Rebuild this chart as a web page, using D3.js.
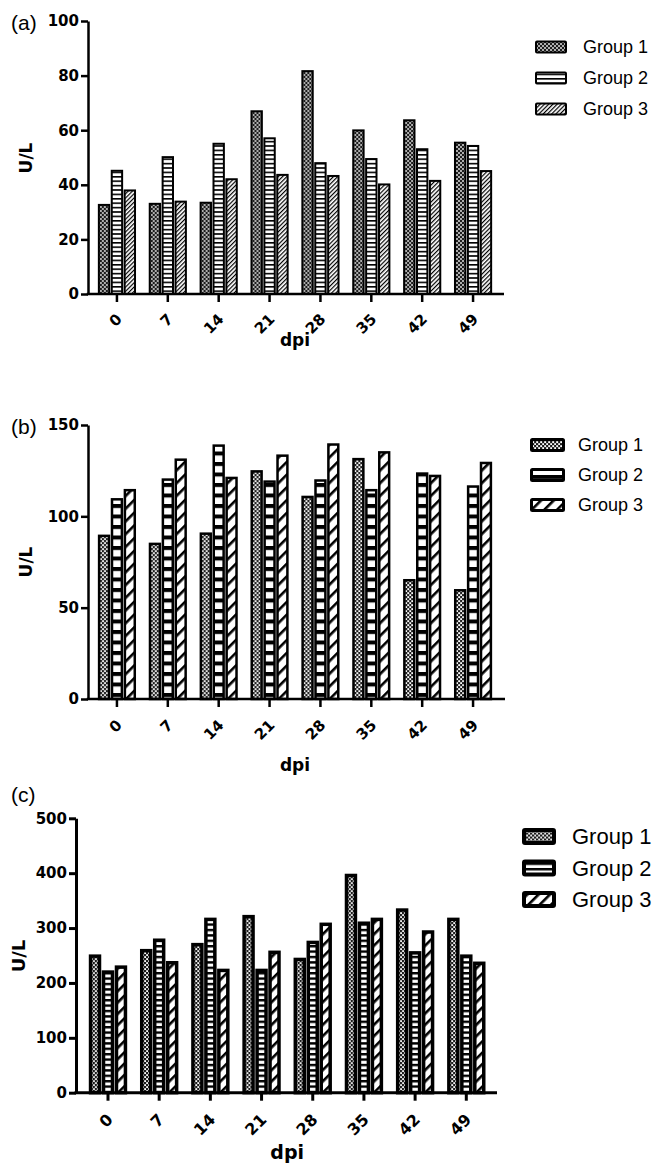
<!DOCTYPE html>
<html>
<head>
<meta charset="utf-8">
<script src="https://cdn.jsdelivr.net/npm/d3@7"></script>
<style>
    body { margin: 0; background: #fff; }
    svg { display: block; }
</style>
</head>
<body>
<script>
const dpi = ["0", "7", "14", "21", "28", "35", "42", "49"];
const groups = ["Group 1", "Group 2", "Group 3"];

const aGroup1 = [33, 33.4, 33.8, 67.3, 82, 60.3, 64, 55.8];
const aGroup2 = [45.5, 50.5, 55.4, 57.4, 48.3, 49.8, 53.4, 54.6];
const aGroup3 = [38.3, 34.2, 42.4, 44, 43.6, 40.5, 41.8, 45.4];

const bGroup1 = [90, 85.6, 91.2, 125.3, 111.3, 132, 65.7, 60.2];
const bGroup2 = [110, 120.8, 139.4, 119.7, 120.3, 115, 124.1, 117];
const bGroup3 = [115, 131.7, 121.7, 133.9, 140, 135.7, 122.8, 129.9];

const cGroup1 = [252, 262, 273, 324, 246, 399, 336, 319];
const cGroup2 = [223, 281, 319, 226, 277, 312, 258, 252];
const cGroup3 = [232, 240, 226, 259, 310, 319, 296, 239];

const aTicks = [0, 20, 40, 60, 80, 100];
const bTicks = [0, 50, 100, 150];
const cTicks = [0, 100, 200, 300, 400, 500];

const svg = d3.select("body").append("svg")
    .attr("width", 656)
    .attr("height", 1166);

const defs = svg.append("defs");

// fill patterns, one set per panel (the panels use different hatch sizes)
const makePatterns = (id, p) => {
    const dots = defs.append("pattern")
        .attr("id", `${id}-g1`)
        .attr("patternUnits", "userSpaceOnUse")
        .attr("width", 4).attr("height", 4);
    dots.append("rect").attr("width", 4).attr("height", 4).attr("fill", "#1c1c1c");
    dots.append("rect").attr("x", 0.2).attr("y", 0.2).attr("width", p.dot).attr("height", p.dot).attr("fill", "#fff");
    dots.append("rect").attr("x", 2.2).attr("y", 2.2).attr("width", p.dot).attr("height", p.dot).attr("fill", "#fff");

    const stripes = defs.append("pattern")
        .attr("id", `${id}-g2`)
        .attr("patternUnits", "userSpaceOnUse")
        .attr("width", 4).attr("height", p.hStep);
    stripes.append("rect").attr("width", 4).attr("height", p.hStep).attr("fill", "#fff");
    stripes.append("rect").attr("width", 4).attr("height", p.hLine).attr("fill", "#000");

    const hatch = defs.append("pattern")
        .attr("id", `${id}-g3`)
        .attr("patternUnits", "userSpaceOnUse")
        .attr("width", p.dStep).attr("height", p.dStep)
        .attr("patternTransform", "rotate(45)");
    hatch.append("rect").attr("width", p.dStep).attr("height", p.dStep).attr("fill", "#fff");
    hatch.append("rect").attr("width", p.dLine).attr("height", p.dStep).attr("fill", "#000");
};

const drawPanel = (cfg) => {
    const g = svg.append("g");
    makePatterns(cfg.id, cfg.pat);

    const data = dpi.map((d, i) => ({
        dpi: d,
        values: cfg.series.map((s, k) => ({ key: groups[k], k, v: s[i] }))
    }));

    const scaleX = d3.scaleBand()
        .domain(dpi)
        .range(cfg.bandRange)
        .paddingInner(0.25)
        .paddingOuter(0.125);

    const scaleG = d3.scaleBand()
        .domain(d3.range(groups.length))
        .range([0, scaleX.bandwidth()])
        .paddingInner(0.04);

    const scaleY = d3.scaleLinear()
        .domain([0, cfg.max])
        .range([cfg.yBottom, cfg.yTop]);

    // bars
    const sw = cfg.barStroke;
    g.append("g")
        .selectAll("g")
        .data(data)
        .join("g")
        .attr("transform", d => `translate(${scaleX(d.dpi)},0)`)
        .selectAll("rect")
        .data(d => d.values)
        .join("rect")
        .attr("x", d => scaleG(d.k) + sw / 2)
        .attr("y", d => scaleY(d.v) + sw / 2)
        .attr("width", scaleG.bandwidth() - sw)
        .attr("height", d => cfg.yBottom - scaleY(d.v) - sw / 2)
        .attr("fill", d => `url(#${cfg.id}-g${d.k + 1})`)
        .attr("stroke", "#000")
        .attr("stroke-width", sw);

    // y axis
    const axisY = g.append("g")
        .attr("transform", `translate(${cfg.axisX},0)`)
        .call(d3.axisLeft(scaleY).tickValues(cfg.ticks).tickSize(7).tickSizeOuter(0).tickPadding(2));
    axisY.select(".domain").attr("stroke-width", cfg.axisStroke);
    axisY.selectAll(".tick line").attr("stroke-width", cfg.axisStroke);
    axisY.selectAll("text")
        .attr("font-family", "DejaVu Sans")
        .attr("font-weight", "bold")
        .attr("font-size", 15)
        .attr("fill", "#000");

    // x axis
    const axisX = g.append("g")
        .attr("transform", `translate(0,${cfg.yBottom})`)
        .call(d3.axisBottom(scaleX).tickSize(8).tickSizeOuter(0));
    axisX.select(".domain").remove();
    axisX.selectAll(".tick line").attr("stroke-width", cfg.axisStroke);
    axisX.append("line")
        .attr("x1", cfg.axisX - cfg.axisStroke / 2)
        .attr("x2", cfg.xEnd)
        .attr("stroke", "#000")
        .attr("stroke-width", cfg.axisStroke);
    axisX.selectAll("text")
        .attr("x", 0).attr("y", 0).attr("dy", 0)
        .attr("transform", `translate(6,${cfg.xLabelDy}) rotate(-45)`)
        .style("text-anchor", "end")
        .attr("font-family", "DejaVu Sans")
        .attr("font-weight", "bold")
        .attr("font-size", cfg.xFont)
        .attr("fill", "#000");

    // axis titles
    const mid = (scaleX(dpi[0]) + scaleX(dpi[dpi.length - 1]) + scaleX.bandwidth()) / 2;
    g.append("text")
        .attr("x", mid)
        .attr("y", cfg.dpiY)
        .attr("text-anchor", "middle")
        .attr("font-family", "DejaVu Sans")
        .attr("font-weight", "bold")
        .attr("font-size", cfg.titleFont)
        .text("dpi");

    g.append("text")
        .attr("transform", `translate(${cfg.ulX},${cfg.ulY}) rotate(-90)`)
        .attr("text-anchor", "middle")
        .attr("dy", "0.36em")
        .attr("font-family", "DejaVu Sans")
        .attr("font-weight", "bold")
        .attr("font-size", cfg.ulFont)
        .text("U/L");

    g.append("text")
        .attr("x", 11)
        .attr("y", cfg.labelY)
        .attr("font-family", "Liberation Sans")
        .attr("font-size", 21)
        .text(cfg.label);

    // legend
    const legend = g.append("g")
        .selectAll("g")
        .data(groups)
        .join("g")
        .attr("transform", (d, i) => `translate(0,${cfg.legY + i * cfg.legStep})`);

    legend.append("rect")
        .attr("x", cfg.legX + cfg.legStroke / 2)
        .attr("y", -cfg.legH / 2 + cfg.legStroke / 2)
        .attr("width", cfg.legW - cfg.legStroke)
        .attr("height", cfg.legH - cfg.legStroke)
        .attr("rx", 1)
        .attr("fill", (d, i) => `url(#${cfg.id}-g${i + 1})`)
        .attr("stroke", "#000")
        .attr("stroke-width", cfg.legStroke);

    legend.append("text")
        .attr("x", cfg.legTextX)
        .attr("dy", "0.36em")
        .attr("font-family", "Liberation Sans")
        .attr("font-size", cfg.legFont)
        .text(d => d);
};

drawPanel({
    id: "pa", label: "(a)", labelY: 30,
    series: [aGroup1, aGroup2, aGroup3], max: 100, ticks: aTicks,
    axisX: 88, xEnd: 504, bandRange: [91.5, 498.5], yTop: 21, yBottom: 294,
    barStroke: 2, axisStroke: 2.5, xFont: 15, xLabelDy: 26,
    titleFont: 17, dpiY: 346, ulX: 26, ulY: 158, ulFont: 17,
    legX: 535, legW: 32, legH: 13, legY: 47, legStep: 31, legStroke: 2,
    legTextX: 583, legFont: 18,
    pat: { dot: 1.6, hStep: 4.4, hLine: 1.6, dStep: 3, dLine: 1.2 }
});

drawPanel({
    id: "pb", label: "(b)", labelY: 434,
    series: [bGroup1, bGroup2, bGroup3], max: 150, ticks: bTicks,
    axisX: 88, xEnd: 505, bandRange: [91.5, 498.5], yTop: 425, yBottom: 699,
    barStroke: 2.5, axisStroke: 2.5, xFont: 15, xLabelDy: 27,
    titleFont: 17, dpiY: 771, ulX: 26, ulY: 562, ulFont: 17,
    legX: 530, legW: 35, legH: 14, legY: 445, legStep: 30, legStroke: 3,
    legTextX: 578, legFont: 18,
    pat: { dot: 1.9, hStep: 10.5, hLine: 4, dStep: 9, dLine: 2.6 }
});

drawPanel({
    id: "pc", label: "(c)", labelY: 802,
    series: [cGroup1, cGroup2, cGroup3], max: 500, ticks: cTicks,
    axisX: 76, xEnd: 497, bandRange: [82.4, 491.9], yTop: 818.3, yBottom: 1092.7,
    barStroke: 3.5, axisStroke: 3, xFont: 16, xLabelDy: 28,
    titleFont: 19, dpiY: 1159, ulX: 19, ulY: 956, ulFont: 18,
    legX: 522, legW: 34, legH: 17, legY: 836.5, legStep: 31.5, legStroke: 4,
    legTextX: 572, legFont: 22,
    pat: { dot: 1.8, hStep: 5.4, hLine: 2.4, dStep: 8, dLine: 2.6 }
});
</script>
</body>
</html>
